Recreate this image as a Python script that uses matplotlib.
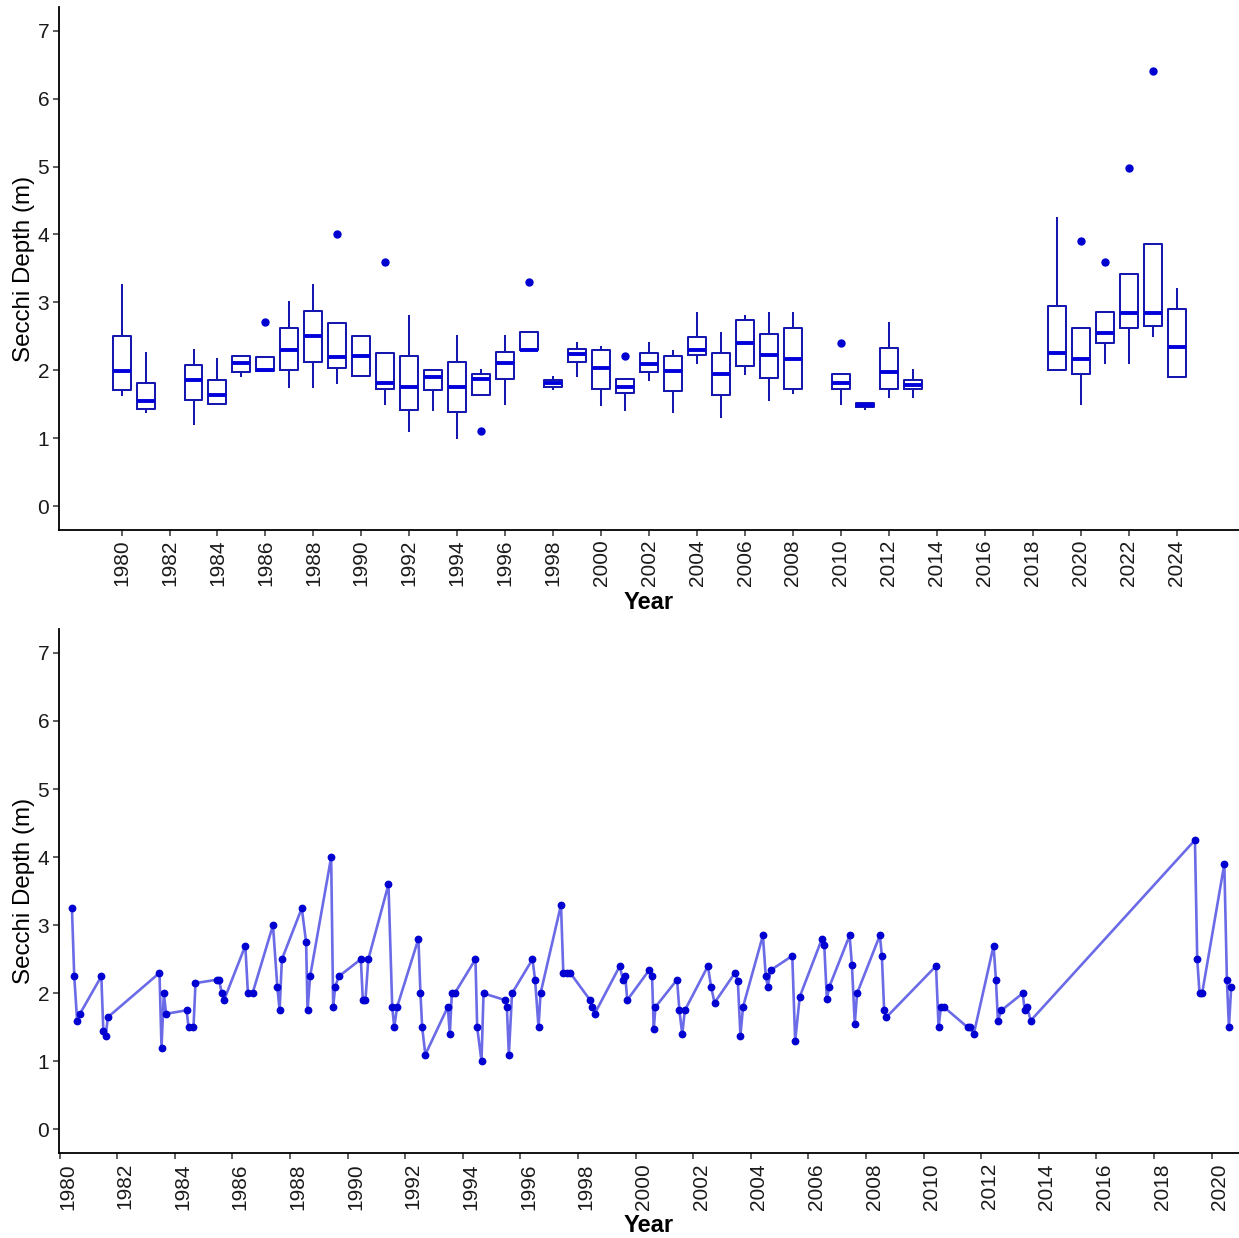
import matplotlib
matplotlib.use("Agg")
import matplotlib.pyplot as plt
import matplotlib.transforms as mtransforms

plt.rcParams['font.family'] = ['Liberation Sans', 'DejaVu Sans']

# ==========================================
# DATA
# ==========================================
# yearly box plot summaries
BOX_YEARS = [1980, 1981, 1983, 1984, 1985, 1986, 1987, 1988, 1989, 1990,
             1991, 1992, 1993, 1994, 1995, 1996, 1997, 1998, 1999, 2000,
             2001, 2002, 2003, 2004, 2005, 2006, 2007, 2008, 2010, 2011,
             2012, 2013, 2019, 2020, 2021, 2022, 2023, 2024]
WHIS_LO = [1.64, 1.39, 1.21, 1.50, 1.91, 1.99, 1.76, 1.76, 1.81, 1.91,
           1.51, 1.11, 1.42, 1.00, 1.63, 1.51, 2.30, 1.72, 1.91, 1.49,
           1.42, 1.86, 1.39, 2.11, 1.31, 1.94, 1.56, 1.66, 1.51, 1.43,
           1.61, 1.61, 2.00, 1.51, 2.11, 2.11, 2.51, 1.90]
Q1 = [1.71, 1.43, 1.57, 1.50, 1.97, 1.99, 2.01, 2.13, 2.03, 1.91,
      1.73, 1.41, 1.71, 1.39, 1.63, 1.88, 2.30, 1.76, 2.13, 1.73,
      1.67, 1.98, 1.70, 2.22, 1.63, 2.07, 1.89, 1.73, 1.73, 1.46,
      1.72, 1.72, 2.00, 1.95, 2.40, 2.63, 2.65, 1.90]
MEDIAN = [1.99, 1.55, 1.86, 1.64, 2.11, 2.00, 2.30, 2.51, 2.19, 2.21,
          1.81, 1.76, 1.90, 1.76, 1.87, 2.11, 2.30, 1.81, 2.24, 2.04,
          1.76, 2.10, 1.99, 2.30, 1.95, 2.41, 2.22, 2.16, 1.81, 1.49,
          1.98, 1.79, 2.26, 2.16, 2.55, 2.85, 2.85, 2.35]
Q3 = [2.51, 1.81, 2.08, 1.86, 2.21, 2.19, 2.63, 2.88, 2.70, 2.50,
      2.25, 2.21, 2.00, 2.13, 1.94, 2.27, 2.56, 1.86, 2.31, 2.30,
      1.87, 2.25, 2.21, 2.49, 2.25, 2.74, 2.53, 2.63, 1.95, 1.52,
      2.33, 1.86, 2.95, 2.63, 2.86, 3.42, 3.86, 2.91]
WHIS_HI = [3.25, 2.25, 2.30, 2.16, 2.21, 2.19, 3.00, 3.25, 2.70, 2.50,
           2.25, 2.80, 2.00, 2.50, 2.00, 2.50, 2.56, 1.90, 2.40, 2.35,
           1.87, 2.40, 2.29, 2.85, 2.55, 2.80, 2.85, 2.85, 1.95, 1.52,
           2.70, 2.00, 4.25, 2.63, 2.86, 3.42, 3.86, 3.20]
OUTLIER_YEARS = [1986, 1989, 1991, 1995, 1997, 2001, 2010, 2020, 2021, 2022, 2023]
OUTLIER_VALUES = [2.71, 4.00, 3.60, 1.11, 3.30, 2.21, 2.41, 3.90, 3.60, 4.98, 6.40]

# individual observations (decimal year, depth in m)
OBS_DATE = [1980.43, 1980.51, 1980.61, 1980.71, 1981.45, 1981.52, 1981.60, 1981.68,
            1983.47, 1983.54, 1983.62, 1983.70, 1984.41, 1984.48, 1984.65, 1984.72,
            1985.47, 1985.54, 1985.63, 1985.71, 1986.45, 1986.54, 1986.70,
            1987.41, 1987.56, 1987.64, 1987.72, 1988.41, 1988.56, 1988.61, 1988.70,
            1989.43, 1989.50, 1989.57, 1989.70, 1990.46, 1990.53, 1990.62, 1990.72,
            1991.42, 1991.55, 1991.62, 1991.72, 1992.46, 1992.53, 1992.59, 1992.70,
            1993.48, 1993.55, 1993.62, 1993.72, 1994.44, 1994.50, 1994.65, 1994.72,
            1995.47, 1995.53, 1995.60, 1995.71, 1996.42, 1996.51, 1996.63, 1996.70,
            1997.41, 1997.49, 1997.61, 1997.73, 1998.42, 1998.50, 1998.58,
            1999.45, 1999.56, 1999.64, 1999.71, 2000.47, 2000.57, 2000.63, 2000.69,
            2001.44, 2001.52, 2001.62, 2001.71, 2002.51, 2002.62, 2002.74,
            2003.45, 2003.55, 2003.64, 2003.73, 2004.42, 2004.52, 2004.59, 2004.69,
            2005.44, 2005.54, 2005.70, 2006.47, 2006.55, 2006.64, 2006.73,
            2007.43, 2007.51, 2007.61, 2007.69, 2008.48, 2008.55, 2008.63, 2008.71,
            2010.43, 2010.52, 2010.60, 2010.70, 2011.53, 2011.61, 2011.74,
            2012.43, 2012.51, 2012.58, 2012.70, 2013.44, 2013.51, 2013.59, 2013.72,
            2019.42, 2019.50, 2019.58, 2019.67, 2020.44, 2020.53, 2020.60, 2020.68]
OBS_DEPTH = [3.25, 2.25, 1.60, 1.70, 2.25, 1.45, 1.38, 1.65,
             2.30, 1.20, 2.00, 1.70, 1.75, 1.50, 1.50, 2.15,
             2.20, 2.20, 2.00, 1.90, 2.70, 2.00, 2.00,
             3.00, 2.10, 1.75, 2.50, 3.25, 2.75, 1.75, 2.25,
             4.00, 1.80, 2.10, 2.25, 2.50, 1.90, 1.90, 2.50,
             3.60, 1.80, 1.50, 1.80, 2.80, 2.00, 1.50, 1.10,
             1.80, 1.40, 2.00, 2.00, 2.50, 1.50, 1.00, 2.00,
             1.90, 1.80, 1.10, 2.00, 2.50, 2.20, 1.50, 2.00,
             3.30, 2.30, 2.30, 2.30, 1.90, 1.80, 1.70,
             2.40, 2.20, 2.26, 1.90, 2.34, 2.26, 1.47, 1.80,
             2.20, 1.75, 1.40, 1.75, 2.40, 2.10, 1.86,
             2.30, 2.18, 1.38, 1.80, 2.85, 2.25, 2.10, 2.34,
             2.55, 1.30, 1.95, 2.80, 2.71, 1.92, 2.10,
             2.85, 2.42, 1.55, 2.00, 2.85, 2.55, 1.75, 1.65,
             2.40, 1.50, 1.80, 1.80, 1.50, 1.50, 1.40,
             2.70, 2.20, 1.60, 1.75, 2.00, 1.75, 1.80, 1.60,
             4.25, 2.50, 2.00, 2.00, 3.90, 2.20, 1.50, 2.10]

Y_TICKS = [0, 1, 2, 3, 4, 5, 6, 7]
TOP_XTICKS = list(range(1980, 2025, 2))
BOTTOM_XTICKS = list(range(1980, 2021, 2))

BOX_EDGE = '#1616b0'
MEDIAN_COLOR = '#0000dc'
POINT_COLOR = '#0000d0'


def style_axis(ax):
    ax.spines['top'].set_visible(False)
    ax.spines['right'].set_visible(False)
    for s in ['left', 'bottom']:
        ax.spines[s].set_linewidth(1.3)
        ax.spines[s].set_color('black')
    ax.tick_params(axis='both', length=4.5, width=1.1, color='#333333',
                   labelsize=15, labelcolor='#1a1a1a', pad=2.5)
    ax.set_yticks(Y_TICKS)
    ax.set_ylim(-0.35, 7.35)
    ax.set_ylabel('Secchi Depth (m)', fontsize=17.4, labelpad=2)
    ax.set_xlabel('Year', fontsize=17, weight='bold', labelpad=3)


fig = plt.figure(figsize=(12.39, 12.38), dpi=100)
ax1 = fig.add_axes([0.0476, 0.5719, 0.9524, 0.4225])
ax2 = fig.add_axes([0.0476, 0.0684, 0.9524, 0.4235])

# ---- top: yearly boxplots ----
stats = []
for i, yr in enumerate(BOX_YEARS):
    stats.append({
        'whislo': WHIS_LO[i], 'q1': Q1[i], 'med': MEDIAN[i],
        'q3': Q3[i], 'whishi': WHIS_HI[i],
        'fliers': [v for y, v in zip(OUTLIER_YEARS, OUTLIER_VALUES) if y == yr],
    })

ax1.bxp(stats, positions=BOX_YEARS, widths=0.75, showcaps=False,
        boxprops=dict(color=BOX_EDGE, linewidth=1.45),
        whiskerprops=dict(color=BOX_EDGE, linewidth=1.45),
        medianprops=dict(color=MEDIAN_COLOR, linewidth=2.8, solid_capstyle='butt'),
        flierprops=dict(marker='o', markerfacecolor=POINT_COLOR,
                        markeredgecolor=POINT_COLOR, markersize=5))
ax1.set_xlim(1977.39, 2026.6)
ax1.set_xticks(TOP_XTICKS)
ax1.set_xticklabels([str(y) for y in TOP_XTICKS], rotation=90)
style_axis(ax1)

# ---- bottom: all observations through time ----
ax2.plot(OBS_DATE, OBS_DEPTH, color='#0000d8', alpha=0.58, linewidth=1.9, zorder=2)
ax2.plot(OBS_DATE, OBS_DEPTH, linestyle='none', marker='o', markersize=4.6,
         color=POINT_COLOR, zorder=3)
ax2.set_xlim(1979.98, 2020.95)
ax2.set_xticks(BOTTOM_XTICKS)
ax2.set_xticklabels([str(y) for y in BOTTOM_XTICKS], rotation=90)
style_axis(ax2)

# bottom labels sit slightly right of their ticks in the original
shift = mtransforms.ScaledTranslation(0.08, 0, fig.dpi_scale_trans)
for lab in ax2.get_xticklabels():
    lab.set_transform(lab.get_transform() + shift)

fig.savefig('out.png', dpi=100)
